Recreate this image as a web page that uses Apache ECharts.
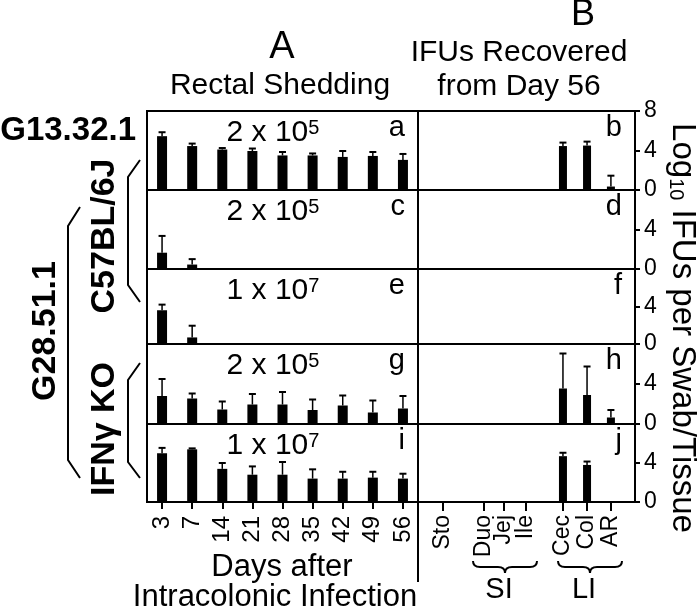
<!DOCTYPE html>
<html>
<head>
<meta charset="utf-8" />
<title>Rectal shedding and IFUs recovered from day 56</title>
<script src="https://cdn.jsdelivr.net/npm/echarts@6/dist/echarts.min.js"></script>
</head>
<body style="margin:0;padding:0;background:#fff;">
<div id="chart" style="width:700px;height:615px;"></div>
<script>
// A: rectal shedding, log10 IFUs per swab (mean and upper error)
const days = ['3', '7', '14', '21', '28', '35', '42', '49', '56'];
const shedA = [5.45, 4.45, 4.1, 3.95, 3.5, 3.5, 3.35, 3.45, 3.05];
const shedAErr = [0.4, 0.25, 0.15, 0.25, 0.35, 0.2, 0.6, 0.4, 0.6];
const shedC = [1.65, 0.45, 0, 0, 0, 0, 0, 0, 0];
const shedCErr = [1.7, 0.55, 0, 0, 0, 0, 0, 0, 0];
const shedE = [3.6, 0.7, 0, 0, 0, 0, 0, 0, 0];
const shedEErr = [0.6, 1.25, 0, 0, 0, 0, 0, 0, 0];
const shedG = [2.8, 2.55, 1.45, 1.95, 1.95, 1.4, 1.85, 1.15, 1.55];
const shedGErr = [1.7, 0.5, 0.8, 1.05, 1.25, 1.05, 1.0, 1.2, 1.25];
const shedI = [5.0, 5.4, 3.4, 2.8, 2.8, 2.4, 2.4, 2.5, 2.4];
const shedIErr = [0.55, 0.1, 0.6, 0.85, 1.3, 0.95, 0.7, 0.6, 0.5];

// B: IFUs recovered from tissues on day 56
const tissues = ['Sto', 'Duo', 'Jej', 'Ile', 'Cec', 'Col', 'AR'];
const tissuePos = [1.15, 3.04, 3.96, 4.98, 6.68, 7.79, 8.89];
const tisB = [0, 0, 0, 0, 4.45, 4.5, 0.35];
const tisBErr = [0, 0, 0, 0, 0.35, 0.4, 1.1];
const tisD = [0, 0, 0, 0, 0, 0, 0];
const tisDErr = [0, 0, 0, 0, 0, 0, 0];
const tisF = [0, 0, 0, 0, 0, 0, 0];
const tisFErr = [0, 0, 0, 0, 0, 0, 0];
const tisH = [0, 0, 0, 0, 3.55, 2.9, 0.65];
const tisHErr = [0, 0, 0, 0, 3.5, 2.85, 0.75];
const tisJ = [0, 0, 0, 0, 4.7, 3.8, 0];
const tisJErr = [0, 0, 0, 0, 0.35, 0.35, 0];

// panel labels
const doses = ['2 x 10', '2 x 10', '1 x 10', '2 x 10', '1 x 10'];
const doseExp = ['5', '5', '7', '5', '7'];
const letterA = ['a', 'c', 'e', 'g', 'i'];
const letterB = ['b', 'd', 'f', 'h', 'j'];

const chart = echarts.init(document.getElementById('chart'));
const FONT = '"Liberation Sans", Arial, sans-serif';
const rowTop = [111, 190, 269, 344, 424];
const rowH = [79, 79, 75, 80, 78];
const shed = [[shedA, shedAErr], [shedC, shedCErr], [shedE, shedEErr], [shedG, shedGErr], [shedI, shedIErr]];
const tis = [[tisB, tisBErr], [tisD, tisDErr], [tisF, tisFErr], [tisH, tisHErr], [tisJ, tisJErr]];
const black = { color: '#000', width: 2 };

// upper whisker with a cap
function errBar(params, api) {
  const mean = api.value(1), sd = api.value(2);
  const p0 = api.coord([api.value(0), mean]);
  const p1 = api.coord([api.value(0), mean + sd]);
  return {
    type: 'group', children: [
      { type: 'line', shape: { x1: p0[0], y1: p0[1], x2: p1[0], y2: p1[1] }, style: { stroke: '#000', lineWidth: 1.5 } },
      { type: 'line', shape: { x1: p1[0] - 3.5, y1: p1[1], x2: p1[0] + 3.5, y2: p1[1] }, style: { stroke: '#000', lineWidth: 2 } }
    ]
  };
}

const grid = [], xAxis = [], yAxis = [], series = [], graphic = [];
for (let r = 0; r < 5; r++) {
  const last = r === 4;
  const ga = 2 * r, gb = 2 * r + 1;
  grid.push({ left: 147, top: rowTop[r], width: 271, height: rowH[r], show: true, borderColor: '#000', borderWidth: 2 });
  grid.push({ left: 418, top: rowTop[r], width: 217, height: rowH[r], show: true, borderColor: '#000', borderWidth: 2 });

  xAxis.push({
    gridIndex: ga, type: 'category', data: days,
    axisLine: { show: true, onZero: false, lineStyle: black },
    axisTick: { show: last, length: 7, alignWithLabel: true, interval: 0, lineStyle: black },
    axisLabel: { show: last, interval: 0, rotate: 90, fontSize: 24, color: '#000', fontFamily: FONT, margin: 14 }
  });
  xAxis.push({
    gridIndex: gb, type: 'value', min: 0, max: 10, splitLine: { show: false },
    axisLine: { show: true, onZero: false, lineStyle: black },
    axisTick: { show: last, customValues: tissuePos, length: 9, lineStyle: black },
    axisLabel: {
      show: last, customValues: tissuePos, rotate: 90, fontSize: 23, color: '#000', fontFamily: FONT, margin: 13,
      formatter: v => tissues[tissuePos.indexOf(v)]
    }
  });
  yAxis.push({ gridIndex: ga, type: 'value', min: 0, max: 8, show: false });
  yAxis.push({
    gridIndex: gb, type: 'value', position: 'right', min: 0, max: 8, interval: 4,
    splitLine: { show: false },
    axisLine: { show: true, onZero: false, lineStyle: black },
    axisTick: { show: true, length: 5, lineStyle: black },
    axisLabel: { showMaxLabel: r === 0, fontSize: 23, color: '#000', fontFamily: FONT, margin: 9 }
  });

  const [mA, eA] = shed[r];
  series.push({ type: 'bar', xAxisIndex: ga, yAxisIndex: ga, data: mA, barWidth: 10, itemStyle: { color: '#000' }, silent: true });
  series.push({
    type: 'custom', xAxisIndex: ga, yAxisIndex: ga, renderItem: errBar, silent: true,
    encode: { x: 0, y: 1 },
    data: mA.map((v, i) => [i, v, eA[i]]).filter(d => d[2] > 0)
  });
  const [mB, eB] = tis[r];
  series.push({
    type: 'bar', xAxisIndex: gb, yAxisIndex: gb, barWidth: 8, itemStyle: { color: '#000' }, silent: true,
    data: tissuePos.map((p, i) => [p, mB[i]]).filter(d => d[1] > 0)
  });
  series.push({
    type: 'custom', xAxisIndex: gb, yAxisIndex: gb, renderItem: errBar, silent: true,
    encode: { x: 0, y: 1 },
    data: tissuePos.map((p, i) => [p, mB[i], eB[i]]).filter(d => d[2] > 0)
  });

  // dose and panel letter
  graphic.push({
    type: 'text', x: 273, y: rowTop[r] + 22,
    style: {
      text: '{m|' + doses[r] + '}{s|' + doseExp[r] + '}', textAlign: 'center', textVerticalAlign: 'middle',
      rich: { m: { fontSize: 30, fontFamily: FONT, fill: '#000' }, s: { fontSize: 20, fontFamily: FONT, fill: '#000', verticalAlign: 'top' } }
    }
  });
  graphic.push({ type: 'text', x: 405, y: rowTop[r] + 17, style: { text: letterA[r], font: '29px ' + FONT, fill: '#000', textAlign: 'right', textVerticalAlign: 'middle' } });
  graphic.push({ type: 'text', x: 622, y: rowTop[r] + 17, style: { text: letterB[r], font: '29px ' + FONT, fill: '#000', textAlign: 'right', textVerticalAlign: 'middle' } });
}

function txt(x, y, text, size, opt) {
  return Object.assign({
    type: 'text', x: x, y: y,
    style: { text: text, font: (opt && opt.bold ? 'bold ' : '') + size + 'px ' + FONT, fill: '#000', textAlign: 'center', textVerticalAlign: 'middle' }
  }, opt && opt.rotation ? { rotation: opt.rotation } : {});
}
function poly(points) {
  return { type: 'polyline', shape: { points: points }, style: { stroke: '#000', lineWidth: 2, fill: null } };
}
// horizontal curly brace opening downwards
function brace(x1, x2, y) {
  const m = (x1 + x2) / 2, st = { stroke: '#000', lineWidth: 2, fill: null };
  return {
    type: 'group', children: [
      { type: 'bezierCurve', shape: { x1: x1, y1: y, x2: x1 + 7, y2: y + 6, cpx1: x1, cpy1: y + 6 }, style: st },
      { type: 'line', shape: { x1: x1 + 7, y1: y + 6, x2: m - 7, y2: y + 6 }, style: st },
      { type: 'bezierCurve', shape: { x1: m - 7, y1: y + 6, x2: m, y2: y + 12, cpx1: m, cpy1: y + 6 }, style: st },
      { type: 'bezierCurve', shape: { x1: m, y1: y + 12, x2: m + 7, y2: y + 6, cpx1: m, cpy1: y + 6 }, style: st },
      { type: 'line', shape: { x1: m + 7, y1: y + 6, x2: x2 - 7, y2: y + 6 }, style: st },
      { type: 'bezierCurve', shape: { x1: x2 - 7, y1: y + 6, x2: x2, y2: y, cpx1: x2, cpy1: y + 6 }, style: st }
    ]
  };
}

graphic.push(
  txt(282, 48, 'A', 38),
  txt(583, 15, 'B', 36),
  txt(280, 86, 'Rectal Shedding', 30),
  txt(519, 53, 'IFUs Recovered', 30),
  txt(519, 87, 'from Day 56', 30),
  txt(282, 567, 'Days after', 31),
  txt(275, 597, 'Intracolonic Infection', 31),
  { type: 'text', x: 136, y: 131, style: { text: 'G13.32.1', font: 'bold 33px ' + FONT, fill: '#000', textAlign: 'right', textVerticalAlign: 'middle' } },
  txt(105, 236, 'C57BL/6J', 34, { bold: true, rotation: Math.PI / 2 }),
  txt(105, 429, 'IFNγ KO', 34, { bold: true, rotation: Math.PI / 2 }),
  txt(46, 331, 'G28.51.1', 34, { bold: true, rotation: Math.PI / 2 }),
  poly([[140, 160], [128, 177], [128, 285], [140, 302]]),
  poly([[140, 363], [128, 380], [128, 462], [140, 478]]),
  poly([[80, 207], [68, 226], [68, 460], [80, 478]]),
  { type: 'line', shape: { x1: 418, y1: 502, x2: 418, y2: 582 }, style: { stroke: '#000', lineWidth: 2 } },
  brace(473, 537, 561),
  brace(558, 622, 561),
  txt(499, 590, 'SI', 29),
  txt(584, 590, 'LI', 29),
  {
    type: 'text', x: 682, y: 328, rotation: -Math.PI / 2,
    style: {
      text: '{m|Log}{s|10}{m| IFUs per Swab/Tissue}', textAlign: 'center', textVerticalAlign: 'middle',
      rich: { m: { fontSize: 33, fontFamily: FONT, fill: '#000' }, s: { fontSize: 20, fontFamily: FONT, fill: '#000', verticalAlign: 'bottom' } }
    }
  }
);

chart.setOption({
  animation: false,
  backgroundColor: '#fff',
  grid: grid,
  xAxis: xAxis,
  yAxis: yAxis,
  series: series,
  graphic: graphic
});
</script>
</body>
</html>
